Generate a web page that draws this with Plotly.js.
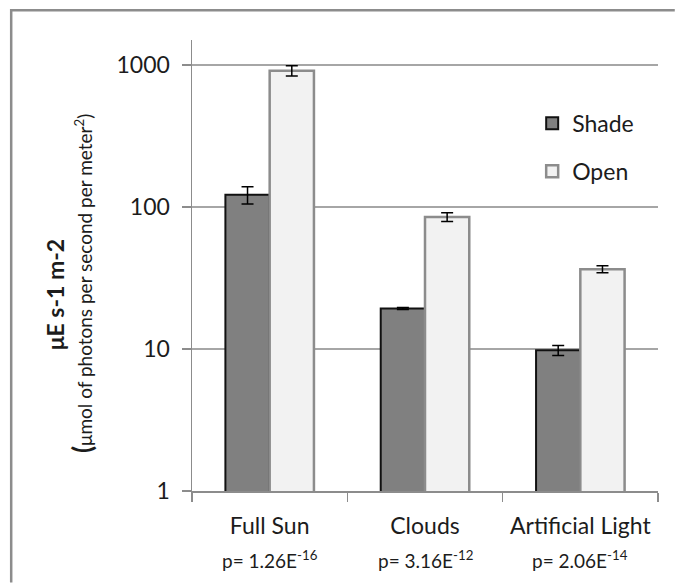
<!DOCTYPE html>
<html>
<head>
<meta charset="utf-8">
<script src="https://cdn.plot.ly/plotly-3.0.1.min.js"></script>
<style>
  html, body { margin: 0; padding: 0; background: #ffffff; overflow: hidden; }
  #chart { width: 675px; height: 583px; }
</style>
</head>
<body>
<div id="chart"></div>
<script>
// Light conditions measured under two canopies
const categories = ["Full Sun", "Clouds", "Artificial Light"];
const shadeValues = [122, 19.3, 9.8];
const shadeErrors = [17, 0.3, 0.8];
const openValues = [912, 85, 36.5];
const openErrors = [76, 6, 2];
const pValueLabels = ["p= 1.26E<sup>-16</sup>", "p= 3.16E<sup>-12</sup>", "p= 2.06E<sup>-14</sup>"];
const yTickValues = [1, 10, 100, 1000];
const yTickLabels = ["1", "10", "100", "1000"];

const FONT = "Lato, 'Open Sans', sans-serif";
const INK = "#1c1c1c";

const shadeTrace = {
  type: "bar",
  name: "Shade",
  x: categories,
  y: shadeValues,
  legendgroup: "shade",
  marker: { color: "#808080", line: { color: "#111111", width: 2 } },
  error_y: { type: "data", array: shadeErrors, visible: true, color: "#000000", thickness: 1.5, width: 6 }
};

const openTrace = {
  type: "bar",
  name: "Open",
  x: categories,
  y: openValues,
  legendgroup: "open",
  marker: { color: "#f2f2f2", line: { color: "#8c8c8c", width: 2.5 } },
  error_y: { type: "data", array: openErrors, visible: true, color: "#000000", thickness: 1.5, width: 6 }
};

// p-value notes under each category label
const pAnnotations = categories.map((c, i) => ({
  x: c, xref: "x", y: -0.151, yref: "paper",
  text: pValueLabels[i], showarrow: false, yanchor: "middle",
  font: { family: FONT, size: 19, color: INK }
}));

const layout = {
  width: 675,
  height: 583,
  margin: { l: 192, r: 17, t: 40, b: 92 },
  paper_bgcolor: "#ffffff",
  plot_bgcolor: "#ffffff",
  barmode: "group",
  bargap: 0.43,
  bargroupgap: 0,
  font: { family: FONT, color: INK },
  showlegend: true,
  legend: {
    x: 0.73, xanchor: "left", y: 0.863, yanchor: "top",
    font: { family: FONT, size: 23, color: INK },
    tracegroupgap: 15,
    bgcolor: "rgba(0,0,0,0)"
  },
  xaxis: {
    type: "category",
    tickson: "boundaries",
    ticks: "outside", ticklen: 9, tickwidth: 1.5, tickcolor: "#8c8c8c",
    showline: true, linecolor: "#8c8c8c", linewidth: 1.5,
    showgrid: false,
    tickfont: { family: FONT, size: 23, color: INK },
    ticklabelstandoff: 14
  },
  yaxis: {
    type: "log",
    range: [0, 3.176],
    tickvals: yTickValues,
    ticktext: yTickLabels,
    ticks: "outside", ticklen: 9, tickwidth: 1.5, tickcolor: "#8c8c8c",
    showline: true, linecolor: "#8c8c8c", linewidth: 1.5,
    showgrid: true, gridcolor: "#a6a6a6", gridwidth: 1.5,
    zeroline: false,
    tickfont: { family: FONT, size: 23, color: INK },
    ticklabelstandoff: 7
  },
  annotations: [
    {
      x: -0.295, xref: "paper", y: 0.435, yref: "paper",
      text: "<b>μE s-1 m-2</b>", textangle: -90, showarrow: false,
      xanchor: "center", yanchor: "middle",
      font: { family: FONT, size: 23, color: INK }
    },
    {
      x: -0.237, xref: "paper", y: 0.46, yref: "paper",
      text: "<b><span style='font-size:26px'>(</span></b>μmol of photons per second per meter<sup>2</sup>)",
      textangle: -90, showarrow: false,
      xanchor: "center", yanchor: "middle",
      font: { family: FONT, size: 19, color: INK }
    }
  ].concat(pAnnotations),
  shapes: [
    // outer chart frame: only the left and top edges fall inside the page
    {
      type: "path", xref: "paper", yref: "paper", layer: "below",
      path: "M -0.388,-0.203 L -0.388,1.066 L 1.036,1.066",
      line: { color: "#8c8c8c", width: 2.5 }
    }
  ]
};

Plotly.newPlot("chart", [shadeTrace, openTrace], layout, { displayModeBar: false, staticPlot: true });
</script>
</body>
</html>
